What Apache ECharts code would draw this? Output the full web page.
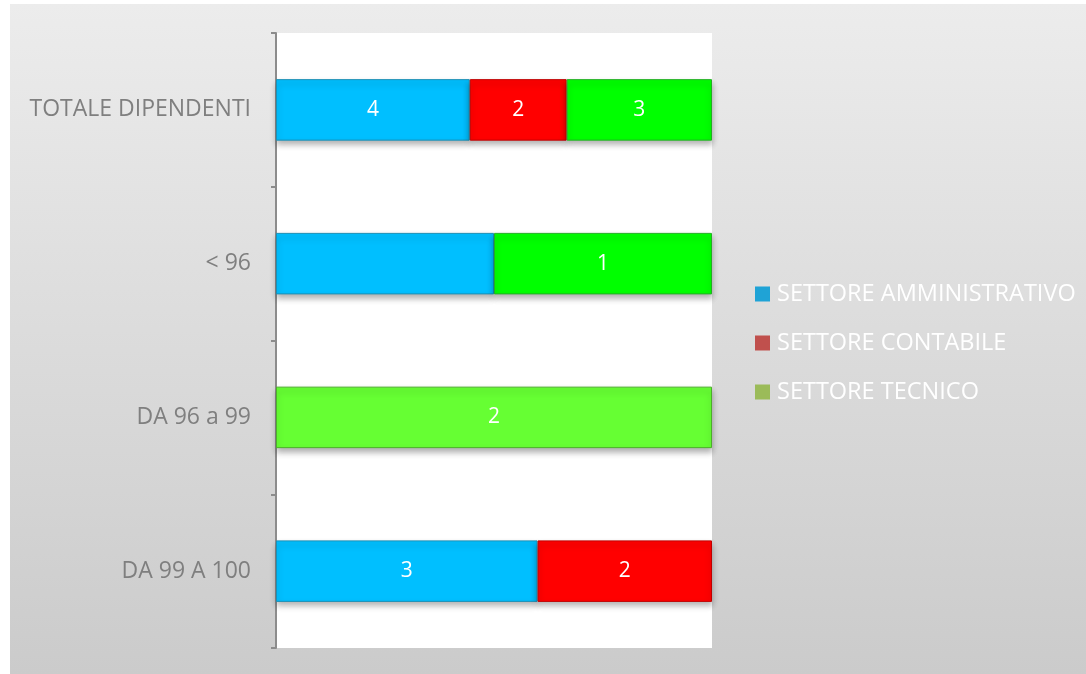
<!DOCTYPE html>
<html>
<head>
<meta charset="utf-8">
<script src="https://cdn.jsdelivr.net/npm/echarts@6/dist/echarts.min.js"></script>
<style>
  html, body { margin: 0; padding: 0; background: #fff; }
  #chart { position: absolute; left: 10px; top: 4px; width: 1076px; height: 670px; }
</style>
</head>
<body>
<div id="chart"></div>
<script>
// categorie (dall'alto verso il basso)
var categorie = ['TOTALE DIPENDENTI', '< 96', 'DA 96 a 99', 'DA 99 A 100'];
var serieNomi = ['SETTORE AMMINISTRATIVO', 'SETTORE CONTABILE', 'SETTORE TECNICO'];
// numero dipendenti per settore
var amministrativo = [4, 1, null, 3];
var contabile = [2, null, null, 2];
var tecnico = [3, 1, 2, null];

var coloriBarre = ['#00BFFF', '#FF0000', '#00FF00'];
var coloriBordo = ['#1a8fb5', '#c00000', '#22b022'];
var coloriLegenda = ['#1fa3d6', '#c0504d', '#9bbb59'];

var valori = [amministrativo, contabile, tecnico];
var totali = categorie.map(function (c, i) {
    return valori.reduce(function (s, v) { return s + (v[i] || 0); }, 0);
});

var myChart = echarts.init(document.getElementById('chart'));

var series = valori.map(function (arr, k) {
    return {
        name: serieNomi[k],
        type: 'bar',
        stack: 'tot',
        barCategoryGap: '60%',
        itemStyle: {
            color: coloriBarre[k],
            borderColor: coloriBordo[k],
            borderWidth: 1,
            shadowColor: 'rgba(0,0,0,0.3)',
            shadowBlur: 6,
            shadowOffsetY: 4
        },
        label: {
            show: true,
            color: '#fff',
            fontSize: 21,
            fontFamily: 'Open Sans',
            formatter: function (p) { return arr[p.dataIndex]; }
        },
        data: arr.map(function (v, i) {
            if (v == null) return null;
            var item = { value: v / totali[i] };
            // etichetta non visibile nel grafico originale
            if (k === 0 && i === 1) item.label = { show: false };
            // tecnico 96-99 in verde più chiaro
            if (k === 2 && i === 2) item.itemStyle = { color: '#66FF33', borderColor: '#4caf2a' };
            return item;
        })
    };
});

var option = {
    backgroundColor: {
        type: 'linear', x: 0, y: 0, x2: 0, y2: 1,
        colorStops: [{ offset: 0, color: '#ececec' }, { offset: 1, color: '#cbcbcb' }]
    },
    grid: {
        left: 266, top: 29, width: 436, height: 615,
        show: true, backgroundColor: '#fff', borderWidth: 0
    },
    legend: {
        orient: 'vertical',
        left: 740, top: 273,
        itemWidth: 15, itemHeight: 15,
        itemGap: 25,
        itemStyle: { borderWidth: 0 },
        textStyle: { color: '#fff', fontSize: 23.5, fontFamily: 'Open Sans', padding: [0, 0, 0, 2] },
        data: serieNomi.map(function (n, k) {
            return { name: n, icon: 'rect', itemStyle: { color: coloriLegenda[k] } };
        })
    },
    xAxis: {
        type: 'value', min: 0, max: 1, show: false
    },
    yAxis: {
        type: 'category',
        inverse: true,
        data: categorie,
        axisLine: { show: true, lineStyle: { color: '#8c8c8c', width: 2 } },
        axisTick: { show: true, length: 5, lineStyle: { color: '#8c8c8c', width: 2 } },
        axisLabel: { color: '#7f7f7f', fontSize: 23, fontFamily: 'Open Sans', margin: 25 }
    },
    series: series
};

myChart.setOption(option);
</script>
</body>
</html>
